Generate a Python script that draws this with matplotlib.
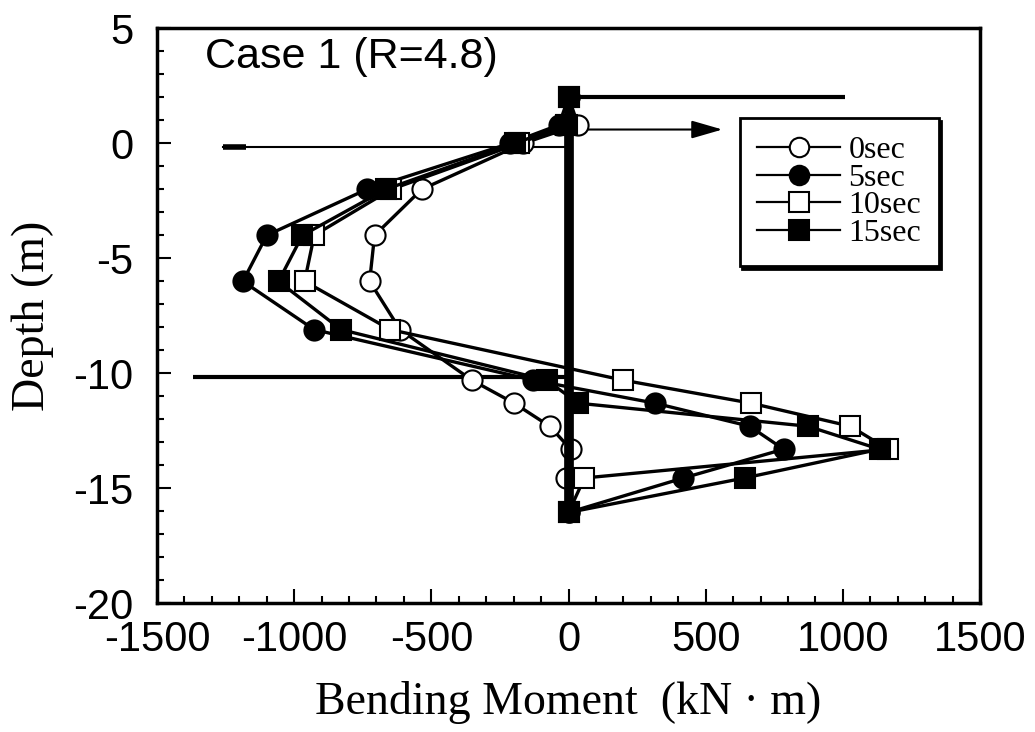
import matplotlib
matplotlib.use("Agg")
import matplotlib.pyplot as plt

plt.rcParams['axes.unicode_minus'] = False

# depths of the gauges (m)
depth = [2.0, 0.8, 0.0, -2.0, -4.0, -6.0, -8.1, -10.3, -11.3, -12.3, -13.3, -14.55, -16.05]

# bending moment (kN m)
m_0sec = [0, 35, -165, -535, -707, -725, -614, -352, -198, -69, 8, -8, 0]
m_5sec = [0, -35, -213, -735, -1100, -1187, -927, -128, 316, 660, 784, 419, 0]
m_10sec = [0, -5, -180, -646, -927, -962, -650, 200, 666, 1027, 1165, 58, 0]
m_15sec = [0, -10, -195, -666, -970, -1057, -829, -80, 36, 872, 1134, 642, 0]

labels = ['0sec', '5sec', '10sec', '15sec']

# sketch of the pile and soil layers
pile_x = [0, 0]
pile_y = [2.0, -16.0]
top_beam_x = [0, 1006]
top_beam_y = [2.0, 2.0]
load_x = [0, 571]
load_y = [0.6, 0.6]
ground_x = [-1261, 0]
ground_y = [-0.17, -0.17]
ground_end_x = [-1261, -1174]
layer_x = [-1367, 0]
layer_y = [-10.16, -10.16]

fig = plt.figure(figsize=(10.35, 7.32), dpi=100)
ax = fig.add_axes([0.1517, 0.1758, 0.7952, 0.7855])

# soil / pile sketch
ax.plot(ground_x, ground_y, color='black', lw=1.5, zorder=2)
ax.plot(ground_end_x, ground_y, color='black', lw=4, solid_capstyle='butt', zorder=2)
ax.plot(layer_x, layer_y, color='black', lw=3, solid_capstyle='butt', zorder=2)
ax.plot(top_beam_x, top_beam_y, color='black', lw=3, solid_capstyle='butt', zorder=2)
ax.annotate('', xy=(load_x[1], load_y[1]), xytext=(load_x[0], load_y[0]),
            arrowprops=dict(arrowstyle='-|>,head_length=1.9,head_width=0.55',
                            color='black', lw=1.5), zorder=2)

style = dict(color='black', lw=2.4, markersize=14.5, markeredgewidth=1.5,
             markeredgecolor='black')
ax.plot(m_0sec, depth, marker='o', markerfacecolor='white', label=labels[0], zorder=3, **style)
ax.plot(m_5sec, depth, marker='o', markerfacecolor='black', label=labels[1], zorder=4, **style)
ax.plot(m_10sec, depth, marker='s', markerfacecolor='white', label=labels[2], zorder=5, **style)
ax.plot(m_15sec, depth, marker='s', markerfacecolor='black', label=labels[3], zorder=6, **style)

ax.plot(pile_x, pile_y, color='black', lw=7, solid_capstyle='butt', zorder=7)

ax.set_xlim(-1500, 1500)
ax.set_ylim(-20, 5)
ax.set_xticks([-1500, -1000, -500, 0, 500, 1000, 1500])
ax.set_xticks(range(-1500, 1501, 100), minor=True)
ax.set_yticks([-20, -15, -10, -5, 0, 5])
ax.set_yticks(range(-20, 6), minor=True)
ax.tick_params(which='both', direction='in', top=False, right=False, width=1.5)
ax.tick_params(which='major', length=10)
ax.tick_params(axis='x', which='major', pad=12)
ax.tick_params(axis='y', which='major', pad=17)
ax.tick_params(which='minor', length=5)
for lab in ax.get_xticklabels() + ax.get_yticklabels():
    lab.set_fontfamily('Liberation Sans')
    lab.set_fontsize(30)
for sp in ax.spines.values():
    sp.set_linewidth(2.5)

ax.set_xlabel('Bending Moment  (kN · m)', fontfamily='Liberation Serif',
              fontsize=33, labelpad=15)
ax.set_ylabel('Depth (m)', fontfamily='Liberation Serif', fontsize=33, labelpad=14)

ax.text(0.058, 0.951, 'Case 1 (R=4.8)', transform=ax.transAxes,
        fontfamily='Liberation Sans', fontsize=31, va='center', ha='left')

leg = ax.legend(loc='upper left', bbox_to_anchor=(0.708, 0.844), borderaxespad=0,
                prop={'family': 'Liberation Serif', 'size': 23},
                handlelength=2.6, handletextpad=0.25, labelspacing=-0.05,
                borderpad=0.55, fancybox=False, framealpha=1,
                shadow={'color': 'black', 'alpha': 1})
leg.get_frame().set_edgecolor('black')
leg.get_frame().set_linewidth(2)
for h in leg.get_lines():
    h.set_linewidth(1.6)
    h.set_markersize(14)

fig.savefig('out.png', dpi=100)
